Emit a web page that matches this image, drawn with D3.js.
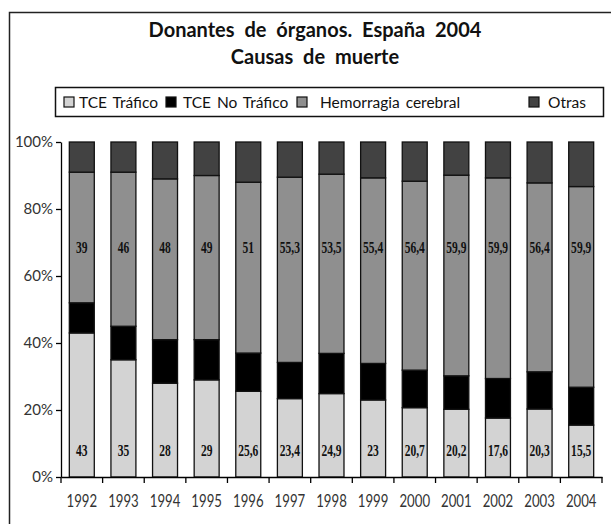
<!DOCTYPE html>
<html>
<head>
<meta charset="utf-8">
<script src="https://cdn.jsdelivr.net/npm/d3@7"></script>
<style>
  body { margin: 0; background: #fff; }
  svg { display: block; }
</style>
</head>
<body>
<div class="visArea"></div>
<script>
// Chart data
var years = ['1992', '1993', '1994', '1995', '1996', '1997', '1998', '1999', '2000', '2001', '2002', '2003', '2004'];
var seriesNames = ['TCE Tráfico', 'TCE No Tráfico', 'Hemorragia cerebral', 'Otras'];
var traficoValues = [43, 35, 28, 29, 25.6, 23.4, 24.9, 23, 20.7, 20.2, 17.6, 20.3, 15.5];
var noTraficoValues = [9, 10, 13, 12, 11.4, 10.8, 12, 10.9, 11.2, 10, 11.8, 11.1, 11.3];
var hemorragiaValues = [39, 46, 48, 49, 51, 55.3, 53.5, 55.4, 56.4, 59.9, 59.9, 56.4, 59.9];
var otrasValues = [9, 9, 11, 10, 12, 10.5, 9.6, 10.7, 11.7, 9.9, 10.7, 12.2, 13.3];
var yTicks = [0, 20, 40, 60, 80, 100];

var width = 611;
var height = 524;
var margin = {top: 142, right: 9, bottom: 47, left: 61};
var colors = ['#d3d3d3', '#000000', '#8f8f8f', '#424242'];

var svg = d3.select('.visArea')
  .append('svg')
  .attr('width', width)
  .attr('height', height);

// outer frame (cut off at the right and bottom in the original)
svg.append('rect')
  .attr('x', 9.5)
  .attr('y', 12.5)
  .attr('width', 700)
  .attr('height', 700)
  .style('fill', 'none')
  .style('stroke', '#222')
  .style('stroke-width', 1.5);

// title
var title = svg.append('text')
  .attr('x', 315)
  .attr('y', 37)
  .attr('text-anchor', 'middle')
  .style('font-family', 'Lato, sans-serif')
  .style('font-weight', 'bold')
  .style('font-size', '20px')
  .style('word-spacing', '5px')
  .style('fill', '#111');
title.append('tspan').attr('x', 315).text('Donantes de órganos. España 2004');
title.append('tspan').attr('x', 315).attr('dy', 27).text('Causas de muerte');

// rows built from the series arrays
var rows = years.map(function(y, i) {
  return {
    year: y,
    'TCE Tráfico': traficoValues[i],
    'TCE No Tráfico': noTraficoValues[i],
    'Hemorragia cerebral': hemorragiaValues[i],
    'Otras': otrasValues[i]
  };
});
var stacked = d3.stack().keys(seriesNames)
  .offset(d3.stackOffsetExpand)(rows);

var x = d3.scaleBand()
  .domain(years)
  .range([margin.left, width - margin.right])
  .paddingInner(0.4)
  .paddingOuter(0.2);

var y = d3.scaleLinear()
  .domain([0, 1])
  .range([height - margin.bottom, margin.top]);

// bars
svg.selectAll('.serie')
  .data(stacked)
  .enter().append('g')
  .attr('class', 'serie')
  .style('fill', (d, i) => colors[i])
  .selectAll('rect')
  .data(d => d)
  .enter().append('rect')
  .attr('x', d => x(d.data.year))
  .attr('width', x.bandwidth())
  .attr('y', d => y(d[1]))
  .attr('height', d => y(d[0]) - y(d[1]))
  .style('stroke', '#111')
  .style('stroke-width', 1.3);

// value labels
function fmt(v) {
  return String(v).replace('.', ',');
}
function addLabels(values, pos) {
  svg.selectAll(null)
    .data(values)
    .enter().append('text')
    .attr('transform', (d, i) => 'translate(' + (x(years[i]) + x.bandwidth() / 2) + ',' + y(pos) + ') scale(0.72,1)')
    .attr('text-anchor', 'middle')
    .attr('dy', '0.35em')
    .style('font-family', '"Liberation Serif", serif')
    .style('font-weight', 'bold')
    .style('font-size', '16px')
    .style('fill', '#111')
    .text(d => fmt(d));
}
addLabels(traficoValues, 0.08);
addLabels(hemorragiaValues, 0.685);

// y axis
var yAxis = svg.append('g')
  .attr('transform', 'translate(' + margin.left + ',0)')
  .call(d3.axisLeft(y)
    .tickValues(yTicks.map(t => t / 100))
    .tickFormat(d => Math.round(d * 100) + '%')
    .tickSize(5)
    .tickSizeOuter(0)
    .tickPadding(3));
yAxis.selectAll('text')
  .style('font-family', 'Lato, sans-serif')
  .style('font-size', '15px')
  .style('fill', '#333');

// x axis with ticks between the categories
var xAxis = svg.append('g')
  .attr('transform', 'translate(0,' + (height - margin.bottom) + ')')
  .call(d3.axisBottom(x).tickSize(0).tickSizeOuter(0).tickPadding(14));
xAxis.selectAll('text')
  .attr('transform', 'scale(0.88,1.2)')
  .style('font-family', 'Lato, sans-serif')
  .style('font-size', '15px')
  .style('fill', '#333');
var bounds = years.map(d => x(d) - x.step() * x.paddingInner() / 2);
bounds.push(width - margin.right);
xAxis.selectAll('.bound')
  .data(bounds)
  .enter().append('line')
  .attr('class', 'bound')
  .attr('x1', d => d)
  .attr('x2', d => d)
  .attr('y1', 0)
  .attr('y2', 6)
  .style('stroke', '#000');
svg.selectAll('.domain, .tick line, .bound').style('stroke', '#000').style('stroke-width', 1.3);

// legend
var legend = svg.append('g');
legend.append('rect')
  .attr('x', 55.5)
  .attr('y', 87.5)
  .attr('width', 548)
  .attr('height', 29)
  .style('fill', '#fff')
  .style('stroke', '#111')
  .style('stroke-width', 1.5);
var legendX = [64, 166, 297, 529];
var legendTextDx = [15, 17, 23, 19];
var items = legend.selectAll('.item')
  .data(seriesNames)
  .enter().append('g')
  .attr('class', 'item')
  .attr('transform', (d, i) => 'translate(' + legendX[i] + ',97)');
items.append('rect')
  .attr('width', 10)
  .attr('height', 10)
  .style('fill', (d, i) => colors[i])
  .style('stroke', '#111')
  .style('stroke-width', 1.2);
items.append('text')
  .attr('x', (d, i) => legendTextDx[i])
  .attr('y', 10.5)
  .style('font-family', 'Lato, sans-serif')
  .style('font-size', '15.5px')
  .style('word-spacing', '2px')
  .style('fill', '#111')
  .text(d => d);
</script>
</body>
</html>
